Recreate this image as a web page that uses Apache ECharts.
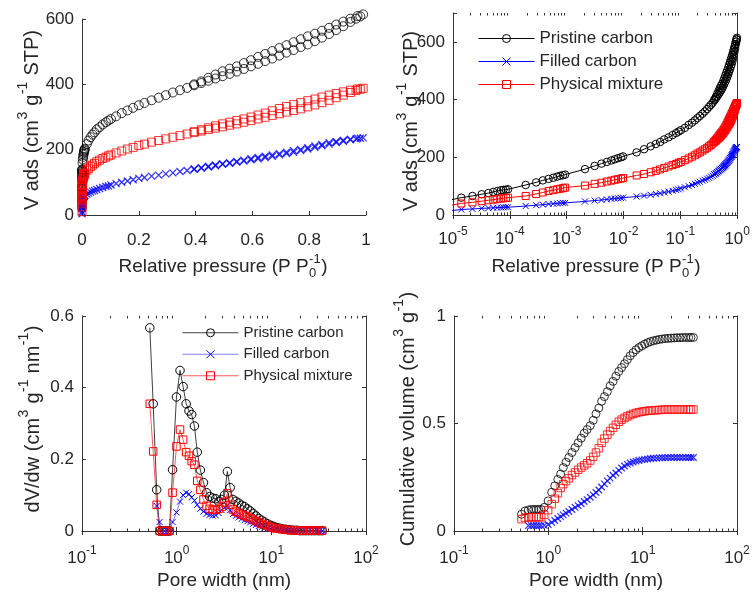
<!DOCTYPE html>
<html><head><meta charset="utf-8">
<script src="https://cdn.jsdelivr.net/npm/echarts@6/dist/echarts.min.js"></script>
<style>html,body{margin:0;padding:0;background:#fff}#c{width:753px;height:596px}</style>
</head><body><div id="c"></div>
<script>
// ---------- DATA ----------
const seriesNames = ['Pristine carbon', 'Filled carbon', 'Physical mixture'];

// N2 isotherm, adsorption branch
const pressureAds = [
  2e-6, 5e-6, 1.4e-5, 2.2e-5, 3.2e-5, 4.2e-5, 5.1e-5, 6e-5, 7e-5, 7.7e-5, 8.5e-5, 9.3e-5,
  1.9e-4, 2.9e-4, 3.8e-4, 4.8e-4, 5.8e-4, 6.8e-4, 7.7e-4, 8.6e-4, 9.4e-4,
  2.1e-3, 3.1e-3, 4.1e-3, 5.1e-3, 6.1e-3, 7e-3, 8e-3, 9e-3, 9.8e-3,
  0.017, 0.023, 0.030, 0.037, 0.044, 0.052, 0.062, 0.073, 0.084, 0.093, 0.102,
  0.12, 0.14, 0.16, 0.18, 0.20, 0.22,
  0.245, 0.27, 0.295, 0.32, 0.345, 0.37, 0.395, 0.42, 0.445, 0.47,
  0.495, 0.52, 0.545, 0.57, 0.595, 0.62, 0.645, 0.67, 0.695, 0.72,
  0.745, 0.77, 0.795, 0.82, 0.845, 0.87, 0.895, 0.92, 0.945,
  0.965, 0.98, 0.99
];
const pristineAds = [
  25, 42, 60, 66, 72, 76, 80, 83, 86, 87, 88, 89,
  104, 113, 120, 125, 129, 133, 136, 138, 140,
  159, 170, 178, 184, 189, 193, 197, 200, 203,
  217, 228, 238, 246, 253, 262, 269, 277, 284, 289, 294,
  302, 312, 320, 328, 336, 343,
  351, 359, 367, 375, 382, 389, 397, 404, 411, 418,
  425, 432, 439, 447, 455, 463, 471, 479, 488, 497,
  505, 514, 522, 532, 543, 554, 566, 578, 591,
  601, 608, 614
];
const filledAds = [
  4, 10, 19, 21, 23, 24, 25, 25.5, 26, 26.5, 27, 27,
  31, 34, 36, 38, 39, 40, 41, 42, 42,
  47, 50, 52, 54, 56, 57, 58, 59, 60,
  64, 67, 70, 73, 75, 78, 81, 84, 87, 89, 92,
  96, 100, 104, 108, 112, 115,
  119, 122, 126, 129, 133, 136, 140, 143, 147, 151,
  155, 158, 162, 165, 169, 172, 176, 180, 184, 188,
  192, 197, 202, 207, 212, 217, 222, 226, 230,
  233, 235, 236
];
const mixtureAds = [
  10, 25, 40, 44, 48, 51, 53, 55, 57, 58, 59, 60,
  66, 73, 78, 83, 86, 89, 91, 93, 95,
  102, 108, 112, 116, 119, 122, 124, 126, 128,
  137, 142, 148, 153, 158, 163, 168, 173, 177, 181, 184,
  190, 196, 202, 207, 213, 217,
  223, 228, 233, 238, 243, 248, 253, 257, 262, 266,
  270, 275, 279, 284, 289, 294, 299, 305, 310, 315,
  320, 325, 331, 337, 344, 351, 359, 367, 375,
  381, 385, 388
];
// desorption branch
const pressureDes = [0.97, 0.945, 0.92, 0.895, 0.87, 0.845, 0.82, 0.795, 0.77, 0.745, 0.72, 0.695,
  0.67, 0.645, 0.62, 0.595, 0.57, 0.545, 0.52, 0.495, 0.47, 0.445, 0.42, 0.395];
const pristineDes = [609, 601, 592, 583, 573, 564, 555, 547, 538, 529, 520, 511,
  502, 493, 484, 474, 465, 455, 448, 440, 430, 420, 409, 400];
const filledDes = [235, 232, 229, 225, 221, 216, 211, 206, 201, 197, 192, 188,
  184, 180, 176, 172, 168, 164, 160, 157, 153, 149, 145, 141];
const mixtureDes = [386, 382, 377, 372, 367, 361, 355, 350, 344, 338, 332, 326,
  319, 312, 306, 300, 294, 289, 284, 279, 273, 267, 261, 255];

// pore size distribution
const poreWidth = [0.52, 0.565, 0.615, 0.66, 0.70, 0.745, 0.79, 0.84, 0.905, 0.995,
  1.085, 1.17, 1.26, 1.35, 1.44, 1.54, 1.65, 1.78, 1.92, 2.07,
  2.23, 2.40, 2.58, 2.78, 2.99, 3.20, 3.43, 3.67, 3.93, 4.22,
  4.52, 4.85, 5.20, 5.58, 5.98, 6.42, 6.88, 7.38, 7.92, 8.50,
  9.12, 9.80, 10.5, 11.3, 12.1, 13.0, 14.0, 15.0, 16.1, 17.3,
  18.6, 20.0, 21.5, 23.1, 24.8, 26.6, 28.6, 30.7, 32.5, 34.5];
const pristinePSD = [0.567, 0.355, 0.115, 0, 0, 0, 0, 0, 0.171, 0.374,
  0.448, 0.403, 0.355, 0.335, 0.325, 0.293, 0.22, 0.17, 0.135, 0.107,
  0.096, 0.092, 0.09, 0.082, 0.088, 0.10, 0.166, 0.121, 0.088, 0.083,
  0.078, 0.072, 0.068, 0.062, 0.056, 0.049, 0.042, 0.035, 0.030, 0.025,
  0.020, 0.016, 0.013, 0.010, 0.008, 0.006, 0.005, 0.004, 0.003, 0.002,
  0.002, 0.001, 0.001, 0.001, 0.001, 0.001, 0.001, 0.001, 0.001, 0.001];
const filledPSD = [null, null, 0.07, 0.025, 0, 0, 0, 0, 0.025, 0.052,
  0.082, 0.1, 0.107, 0.103, 0.094, 0.085, 0.073, 0.062, 0.054, 0.048,
  0.045, 0.043, 0.044, 0.05, 0.058, 0.066, 0.07, 0.058, 0.047, 0.042,
  0.038, 0.034, 0.030, 0.027, 0.024, 0.020, 0.017, 0.014, 0.011, 0.009,
  0.007, 0.006, 0.005, 0.004, 0.003, 0.002, 0.002, 0.001, 0.001, 0.001,
  0.001, 0.001, 0.001, 0.001, 0.001, 0.001, 0.001, 0.001, 0.001, 0.001];
const mixturePSD = [0.355, 0.222, 0.073, 0, 0, 0, 0, 0, 0.107, 0.236,
  0.283, 0.255, 0.22, 0.21, 0.195, 0.185, 0.14, 0.115, 0.088, 0.07,
  0.062, 0.059, 0.059, 0.062, 0.068, 0.08, 0.105, 0.073, 0.06, 0.054,
  0.05, 0.046, 0.043, 0.04, 0.036, 0.032, 0.028, 0.024, 0.02, 0.017,
  0.014, 0.011, 0.009, 0.007, 0.006, 0.005, 0.004, 0.003, 0.002, 0.002,
  0.001, 0.001, 0.001, 0.001, 0.001, 0.001, 0.001, 0.001, 0.001, 0.001];
// cumulative pore volume
const pristineCum = [0.078, 0.093, 0.098, 0.10, 0.10, 0.10, 0.10, 0.10, 0.11, 0.14,
  0.18, 0.21, 0.24, 0.265, 0.295, 0.32, 0.342, 0.365, 0.388, 0.41,
  0.432, 0.455, 0.472, 0.49, 0.515, 0.545, 0.572, 0.603, 0.625, 0.648,
  0.675, 0.696, 0.72, 0.742, 0.76, 0.778, 0.797, 0.815, 0.83, 0.843,
  0.853, 0.861, 0.869, 0.876, 0.881, 0.885, 0.888, 0.891, 0.893, 0.895,
  0.896, 0.897, 0.898, 0.899, 0.899, 0.90, 0.90, 0.90, 0.90, 0.90];
const filledCum = [null, null, 0.025, 0.025, 0.025, 0.025, 0.025, 0.025, 0.026, 0.03,
  0.04, 0.049, 0.058, 0.067, 0.075, 0.083, 0.091, 0.1, 0.11, 0.118,
  0.127, 0.137, 0.146, 0.157, 0.168, 0.179, 0.191, 0.205, 0.219, 0.233,
  0.246, 0.259, 0.27, 0.282, 0.293, 0.302, 0.31, 0.316, 0.321, 0.325,
  0.328, 0.331, 0.333, 0.335, 0.337, 0.338, 0.339, 0.34, 0.341, 0.341,
  0.342, 0.342, 0.342, 0.342, 0.342, 0.342, 0.342, 0.342, 0.342, 0.342];
const mixtureCum = [0.055, 0.062, 0.064, 0.064, 0.064, 0.064, 0.064, 0.064, 0.075, 0.097,
  0.125, 0.15, 0.176, 0.2, 0.218, 0.232, 0.245, 0.26, 0.272, 0.285,
  0.295, 0.305, 0.315, 0.328, 0.345, 0.365, 0.385, 0.41, 0.43, 0.448,
  0.465, 0.48, 0.494, 0.508, 0.518, 0.526, 0.533, 0.539, 0.545, 0.549,
  0.552, 0.555, 0.557, 0.559, 0.56, 0.561, 0.562, 0.563, 0.564, 0.565,
  0.565, 0.565, 0.565, 0.565, 0.565, 0.565, 0.565, 0.565, 0.565, 0.565];

// ---------- STYLE / HELPERS ----------
const FONT = "'Liberation Sans', Arial, Helvetica, sans-serif";
const TXT = '#262626';
const AX = '#333333';
const pair = (xs, ys) => xs.map((x, i) => [x, ys[i] == null ? '-' : ys[i]]);
const iso = (ads, des) => pair(pressureAds, ads).concat(pair(pressureDes, des));

const markers = [
  { symbol: 'circle', color: '#000000' },
  { symbol: 'path://M0,0L10,10M10,0L0,10', color: '#0000ff' },
  { symbol: 'rect', color: '#ff0000' }
];
function mk(i, size, bw) {
  const m = markers[i];
  return {
    symbol: m.symbol, symbolSize: size, symbolKeepAspect: true,
    itemStyle: { color: 'rgba(0,0,0,0)', borderColor: m.color, borderWidth: bw || 1 }
  };
}

const ctx = document.createElement('canvas').getContext('2d');
function tw(t, fs) { ctx.font = fs + 'px ' + FONT; return ctx.measureText(t).width; }
function richTitle(parts, cx, cy, fs, rot) {
  const sfs = Math.round(fs * 0.7);
  const items = []; let x = 0;
  parts.forEach(p => {
    if (p.n !== undefined) { items.push({ t: p.n, x, y: 0, fs }); x += tw(p.n, fs); }
    else {
      let w = 0;
      if (p.sup) { items.push({ t: p.sup, x: x + 0.5, y: -fs * 0.42, fs: sfs }); w = Math.max(w, tw(p.sup, sfs)); }
      if (p.sub) { items.push({ t: p.sub, x: x + 0.5, y: fs * 0.36, fs: sfs }); w = Math.max(w, tw(p.sub, sfs)); }
      x += w + 1;
    }
  });
  const W = x;
  return {
    type: 'group', x: cx, y: cy, rotation: rot || 0, silent: true,
    children: items.map(it => ({
      type: 'text', x: it.x - W / 2, y: it.y,
      style: { text: it.t, font: it.fs + 'px ' + FONT, fill: TXT, align: 'left', verticalAlign: 'middle' }
    }))
  };
}

function minorTicks(lo, hi) {
  const out = [];
  for (let e = lo; e < hi; e++) for (let k = 2; k <= 9; k++) out.push([k * Math.pow(10, e), 0]);
  return out;
}
function tickSeries(xi, yi, lo, hi) {
  return {
    type: 'custom', xAxisIndex: xi, yAxisIndex: yi, silent: true, clip: false, z: 10,
    data: minorTicks(lo, hi),
    renderItem: (params, api) => {
      const cs = params.coordSys;
      const x = Math.round(api.coord([api.value(0), 0])[0]) + 0.5;
      const b = cs.y + cs.height;
      return {
        type: 'group', children: [
          { type: 'line', shape: { x1: x, y1: b, x2: x, y2: b - 2.5 }, style: { stroke: AX, lineWidth: 1 } },
          { type: 'line', shape: { x1: x, y1: cs.y, x2: x, y2: cs.y + 2.5 }, style: { stroke: AX, lineWidth: 1 } }
        ]
      };
    }
  };
}

const labelBase = { color: TXT, fontSize: 17, fontFamily: FONT };
function logLabel(margin) {
  return {
    margin,
    formatter: v => '{b|10}{s|' + Math.round(Math.log10(v)) + '}',
    rich: {
      b: { fontSize: 17, lineHeight: 17, fontFamily: FONT, color: TXT, verticalAlign: 'bottom' },
      s: { fontSize: 12, fontFamily: FONT, color: TXT, padding: [0, 0, 10, 0], verticalAlign: 'top' }
    }
  };
}
const line = { show: true, lineStyle: { color: AX, width: 1 } };
const tick = { show: true, inside: true, length: 4, lineStyle: { color: AX, width: 1 } };
const noSplit = { show: false };

function xLog(grid, min, max, pos, margin) {
  return {
    type: 'log', logBase: 10, gridIndex: grid, min, max, position: pos,
    axisLine: line, axisTick: tick, splitLine: noSplit, minorTick: { show: false },
    axisLabel: pos === 'bottom' ? logLabel(margin) : { show: false }
  };
}
function yVal(grid, min, max, interval, pos) {
  return {
    type: 'value', gridIndex: grid, min, max, interval, position: pos,
    axisLine: line, axisTick: tick, splitLine: noSplit,
    axisLabel: pos === 'left'
      ? Object.assign({ margin: 8, formatter: v => (Math.abs(v / interval - Math.round(v / interval)) < 1e-6 ? String(+v.toFixed(3)) : '') }, labelBase)
      : { show: false }
  };
}
function legendData(lineColors) {
  return seriesNames.map((n, i) => ({
    name: n,
    itemStyle: { color: 'rgba(0,0,0,0)', borderColor: markers[i].color, borderWidth: 1 },
    lineStyle: { color: lineColors[i], width: 1 }
  }));
}

// ---------- SERIES ----------
const series = [];
const isoData = [iso(pristineAds, pristineDes), iso(filledAds, filledDes), iso(mixtureAds, mixtureDes)];
const psdData = [pair(poreWidth, pristinePSD), pair(poreWidth, filledPSD), pair(poreWidth, mixturePSD)];
const cumData = [pair(poreWidth, pristineCum), pair(poreWidth, filledCum), pair(poreWidth, mixtureCum)];
const psdLine = ['rgba(0,0,0,0.75)', 'rgba(70,70,255,0.7)', 'rgba(255,50,50,0.8)'];
const sz1 = [9, 7, 8], sz2 = [7.5, 6, 7], sz3 = [8.5, 6, 7.5], sz4 = [8, 6.5, 7.5];

// panel 2 (log isotherm, lines + markers)
[0, 1, 2].forEach(i => series.push(Object.assign({
  type: 'line', name: seriesNames[i], xAxisIndex: 1, yAxisIndex: 1, data: isoData[i],
  showSymbol: true, showAllSymbol: true, clip: true, silent: true,
  lineStyle: { color: markers[i].color, width: 1 }
}, mk(i, sz2[i]))));
// panel 1 (linear isotherm, markers only)
[0, 1, 2].forEach(i => series.push(Object.assign({
  type: 'scatter', name: seriesNames[i], xAxisIndex: 0, yAxisIndex: 0, data: isoData[i],
  clip: false, silent: true
}, mk(i, sz1[i], i === 1 ? 1.3 : 1))));
// panel 3 (PSD, lines + markers)
[0, 1, 2].forEach(i => series.push(Object.assign({
  type: 'line', name: seriesNames[i], xAxisIndex: 3, yAxisIndex: 3, data: psdData[i],
  showSymbol: true, showAllSymbol: true, clip: false, silent: true,
  lineStyle: { color: psdLine[i], width: 1 }
}, mk(i, sz3[i]))));
// panel 4 (cumulative, markers only)
[0, 1, 2].forEach(i => series.push(Object.assign({
  type: 'scatter', name: seriesNames[i], xAxisIndex: 5, yAxisIndex: 5, data: cumData[i],
  clip: false, silent: true
}, mk(i, sz4[i], i === 1 ? 1.3 : 1))));
series.push(tickSeries(1, 1, -5, 0));
series.push(tickSeries(3, 3, -1, 2));
series.push(tickSeries(5, 5, -1, 2));

const option = {
  animation: false,
  backgroundColor: '#ffffff',
  textStyle: { fontFamily: FONT },
  grid: [
    { left: 82, top: 19, width: 284, height: 196 },
    { left: 453, top: 13, width: 285, height: 202 },
    { left: 82, top: 316, width: 284, height: 215 },
    { left: 454, top: 316, width: 283, height: 215 }
  ],
  xAxis: [
    { type: 'value', gridIndex: 0, min: 0, max: 1, interval: 0.2, position: 'bottom',
      axisLine: line, axisTick: tick, splitLine: noSplit,
      axisLabel: Object.assign({ margin: 17 }, labelBase) },
    xLog(1, 1e-5, 1, 'bottom', 11), xLog(1, 1e-5, 1, 'top'),
    xLog(2, 0.1, 100, 'bottom', 14), xLog(2, 0.1, 100, 'top'),
    xLog(3, 0.1, 100, 'bottom', 14), xLog(3, 0.1, 100, 'top')
  ],
  yAxis: [
    yVal(0, 0, 600, 200, 'left'),
    yVal(1, 0, 700, 200, 'left'), yVal(1, 0, 700, 200, 'right'),
    yVal(2, 0, 0.6, 0.2, 'left'), yVal(2, 0, 0.6, 0.2, 'right'),
    yVal(3, 0, 1, 0.5, 'left'), yVal(3, 0, 1, 0.5, 'right')
  ],
  legend: [
    { data: legendData(['#000000', '#0000ff', '#ff0000']), orient: 'vertical', left: 478, top: 30, padding: 0,
      itemWidth: 56, itemHeight: 10, itemGap: 6, selectedMode: false,
      textStyle: { fontSize: 17, lineHeight: 17, color: TXT, fontFamily: FONT } },
    { data: legendData(psdLine), orient: 'vertical', left: 182, top: 325, padding: 0,
      itemWidth: 56, itemHeight: 10, itemGap: 6, selectedMode: false,
      textStyle: { fontSize: 15, lineHeight: 15.5, color: TXT, fontFamily: FONT } }
  ],
  graphic: [
    richTitle([{ n: 'Relative pressure (P P' }, { sup: '-1', sub: '0' }, { n: ')' }], 223, 267, 19),
    richTitle([{ n: 'Relative pressure (P P' }, { sup: '-1', sub: '0' }, { n: ')' }], 596, 267, 19),
    richTitle([{ n: 'Pore width (nm)' }], 224, 581, 19),
    richTitle([{ n: 'Pore width (nm)' }], 596, 581, 19),
    richTitle([{ n: 'V ads (cm' }, { sup: '3' }, { n: ' g' }, { sup: '-1' }, { n: ' STP)' }], 32, 120, 20, Math.PI / 2),
    richTitle([{ n: 'V ads (cm' }, { sup: '3' }, { n: ' g' }, { sup: '-1' }, { n: ' STP)' }], 411, 121, 20, Math.PI / 2),
    richTitle([{ n: 'dV/dw (cm' }, { sup: '3' }, { n: ' g' }, { sup: '-1' }, { n: ' nm' }, { sup: '-1' }, { n: ')' }], 33, 419, 20, Math.PI / 2),
    richTitle([{ n: 'Cumulative volume (cm' }, { sup: '3' }, { n: ' g' }, { sup: '-1' }, { n: ')' }], 408, 419, 20, Math.PI / 2)
  ],
  series
};
const chart = echarts.init(document.getElementById('c'), null, { renderer: 'canvas' });
chart.setOption(option);
</script>
</body></html>
